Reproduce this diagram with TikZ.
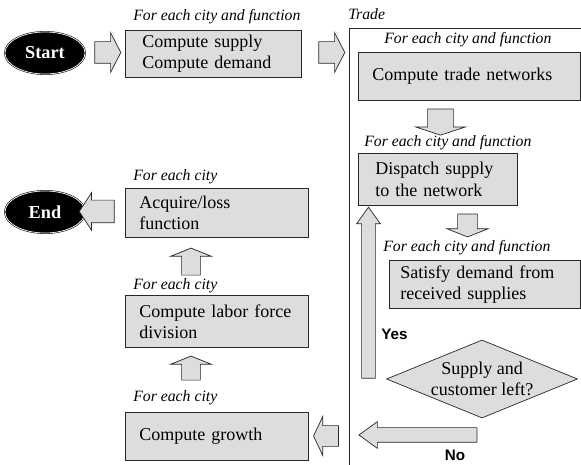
\documentclass[tikz,border=0pt]{standalone}
\usepackage{fontspec}
\setmainfont{Liberation Serif}
\newfontfamily\yesnofont{Liberation Sans}
\usepackage{tikz}
\usetikzlibrary{shapes.geometric, shapes.arrows}
\definecolor{boxgray}{RGB}{221,221,221}
\definecolor{linegray}{RGB}{40,40,40}

\begin{document}
\begin{tikzpicture}[
      x=0.025cm, y=-0.025cm,
      box/.style={draw=linegray, fill=boxgray, line width=0.5pt, anchor=north west, align=left, inner ysep=0pt, font=\fontsize{12.8}{15}\selectfont},
      term/.style={ellipse, draw=black, double=white, double distance=0.5pt, fill=black, text=white, inner sep=0pt, minimum width=2cm, minimum height=1.05cm, font=\fontsize{13}{15}\selectfont\bfseries},
      forall/.style={anchor=west, inner sep=0pt, font=\fontsize{11.2}{13}\selectfont\itshape},
      fatarrow/.style n args={4}{single arrow, draw=linegray, fill=boxgray, line width=0.5pt, inner xsep=0pt, minimum height=#1, inner ysep=#2, single arrow head extend=#3, single arrow tip angle=#4},
      answer/.style={inner sep=0pt, font=\yesnofont\fontsize{10.8}{13}\selectfont\bfseries}
    ]

    \useasboundingbox (0,0) rectangle (581,465);

    % Start and first step
    \node[term] (start) at (45,53) {Start};

    \node[forall] (supplyloop) at (133,17) {For each city and function};
    \node[box, text width=3.55cm, inner xsep=0.425cm, minimum height=1.175cm] (supply) at (125,30) {Compute supply\\Compute demand};

    % Trade frame
    \coordinate (tradeNW) at (349,28);
    \node[forall] (tradelabel) at (348,14) {Trade};
    \draw[linegray, line width=0.5pt] (581,28) -- (tradeNW) -- (349,465);

    \node[forall] (networksloop) at (384,40) {For each city and function};
    \node[box, text width=4.85cm, inner xsep=0.35cm, minimum height=1.2cm] (networks) at (358,52) {Compute trade networks};

    \node[forall] (dispatchloop) at (364,143) {For each city and function};
    \node[box, text width=3.125cm, inner xsep=0.425cm, minimum height=1.3cm] (dispatch) at (358,153) {Dispatch supply\\to the network};

    \node[forall] (satisfyloop) at (383,248) {For each city and function};
    \node[box, text width=4.225cm, inner xsep=0.275cm, minimum height=1.2cm] (satisfy) at (389,260) {Satisfy demand from\\received supplies};

    \node[diamond, draw=linegray, fill=boxgray, line width=0.5pt, aspect=2.45, inner xsep=0pt, inner ysep=-2pt, minimum width=4.775cm, minimum height=1.95cm, align=center, font=\fontsize{12.8}{15}\selectfont] (decide) at (482,379) {Supply and\\customer left?};

    \node[answer, anchor=west] (yes) at (381,334) {Yes};
    \node[answer] (no) at (455,455) {No};

    % Per city steps
    \node[forall] (acquireloop) at (133,177) {For each city};
    \node[box, text width=3.875cm, inner xsep=0.35cm, minimum height=1.225cm] (acquire) at (125,188) {Acquire/loss\\function};

    \node[forall] (laborloop) at (133,286) {For each city};
    \node[box, text width=3.875cm, inner xsep=0.35cm, minimum height=1.3cm] (labor) at (125,295) {Compute labor force\\division};

    \node[forall] (growthloop) at (133,398) {For each city};
    \node[box, text width=3.875cm, inner xsep=0.35cm, minimum height=1.2cm] (growth) at (125,412) {Compute growth};

    \node[term] (finish) at (45,212) {End};

    % Arrows
    \node[fatarrow={0.65cm}{0.2625cm}{0.225cm}{125.7}] (startarrow) at (105,52.5) {};
    \node[fatarrow={0.65cm}{0.2625cm}{0.225cm}{125.7}] (tradearrow) at (329,52.5) {};

    \node[fatarrow={0.65cm}{0.3125cm}{0.3cm}{143.8}, rotate=-90] (networksarrow) at (440.5,120) {};
    \node[fatarrow={0.575cm}{0.2375cm}{0.2625cm}{136.4}, rotate=-90] (dispatcharrow) at (467.5,223.5) {};

    \node[fatarrow={4.275cm}{0.1625cm}{0.125cm}{71.4}, rotate=90] (yesarrow) at (368.5,297.5) {};
    \node[fatarrow={2.95cm}{0.175cm}{0.15cm}{71.7}, rotate=180] (noarrow) at (423,435) {};

    \node[fatarrow={0.625cm}{0.25cm}{0.225cm}{129.3}, rotate=180] (growtharrow) at (328.5,436) {};
    \node[fatarrow={0.6cm}{0.225cm}{0.275cm}{136.4}, rotate=90] (laborarrow) at (191,370) {};
    \node[fatarrow={0.675cm}{0.225cm}{0.275cm}{136.4}, rotate=90] (acquirearrow) at (191,263.5) {};
    \node[fatarrow={0.875cm}{0.275cm}{0.1875cm}{114}, rotate=180] (finisharrow) at (100.5,211.5) {};

  \end{tikzpicture}
\end{document}
